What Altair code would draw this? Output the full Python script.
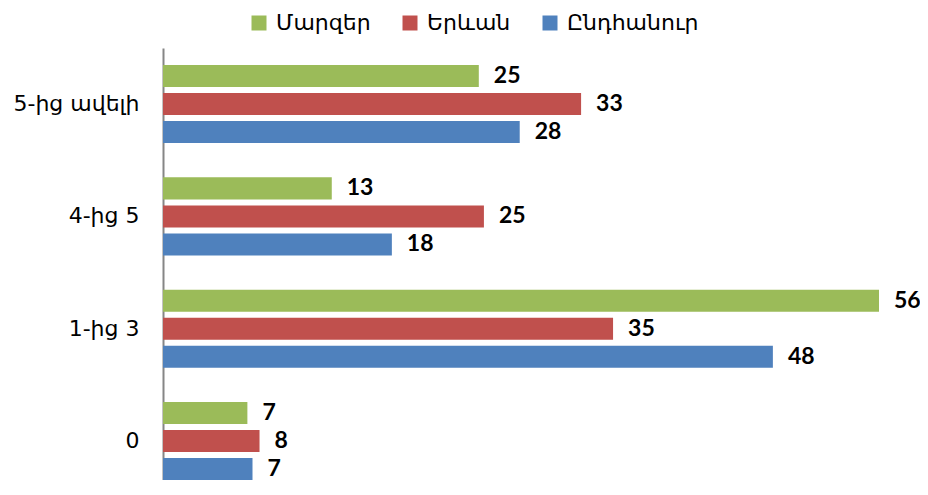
import altair as alt
import pandas as pd

categories = ["5-ից ավելի", "4-ից 5", "1-ից 3", "0"]
series = ["Մարզեր", "Երևան", "Ընդհանուր"]
colors = ["#9BBB59", "#C0504D", "#4F81BD"]
marzer = [24.7, 13.2, 56.0, 6.6]
yerevan = [32.7, 25.1, 35.2, 7.55]
yndhanur = [27.9, 17.9, 47.7, 7.0]

rows = []
for s, vals in zip(series, [marzer, yerevan, yndhanur]):
    for c, v in zip(categories, vals):
        rows.append({"cat": c, "series": s, "value": v})
df = pd.DataFrame(rows)

FONT = "DejaVu Sans"

y_enc = alt.Y(
    "cat:N",
    sort=categories,
    title=None,
    scale=alt.Scale(paddingInner=0.305, paddingOuter=0.076, align=1),
    axis=alt.Axis(
        domainColor="#868686", domainWidth=2, ticks=False,
        labelFont=FONT, labelFontSize=22, labelColor="#000000",
        labelPadding=24, labelLimit=300,
    ),
)
yoff = alt.YOffset("series:N", sort=series, scale=alt.Scale(paddingInner=0.214, paddingOuter=0))
x_enc = alt.X("value:Q", scale=alt.Scale(domain=[0, 56], nice=False, zero=True), axis=None, title=None)

bars = alt.Chart(df).mark_bar().encode(
    y=y_enc,
    yOffset=yoff,
    x=x_enc,
    color=alt.Color(
        "series:N",
        sort=series,
        scale=alt.Scale(domain=series, range=colors),
        legend=alt.Legend(
            title=None, orient="none", direction="horizontal",
            legendX=85, legendY=-36,
            symbolType="square", symbolSize=225, symbolStrokeWidth=0,
            labelFont=FONT, labelFontSize=22, labelColor="#000000",
            columnPadding=28, labelOffset=6,
        ),
    ),
)

labels = alt.Chart(df).mark_text(
    align="left", baseline="middle", dx=15, font="Lato", fontWeight="bold",
    fontSize=23, color="#000000",
).encode(
    y=alt.Y("cat:N", sort=categories),
    yOffset=alt.YOffset("series:N", sort=series),
    x=alt.X("value:Q"),
    text=alt.Text("value:Q", format=".0f"),
)

chart = alt.layer(bars, labels).properties(
    width=716, height=432,
    autosize=alt.AutoSizeParams(type="none"),
    padding={"left": 155, "top": 40, "right": 41, "bottom": 0},
).configure_view(stroke=None)

chart.save("out.html", embed_options={"renderer": "svg", "actions": False})
